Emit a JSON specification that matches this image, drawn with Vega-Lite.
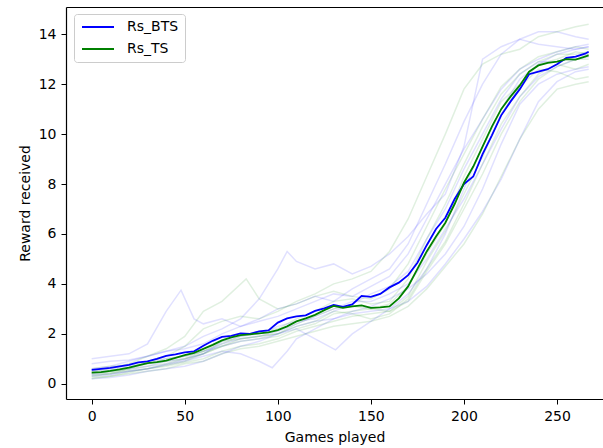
{
"$schema":"https://vega.github.io/schema/vega-lite/v6.json",
"width":537,"height":392,
"autosize":{"type":"none"},
"padding":{"left":66,"top":7,"right":0,"bottom":49},
"config":{"view":{"stroke":null},"font":"DejaVu Sans",
"axis":{"labelFont":"DejaVu Sans","titleFont":"DejaVu Sans","labelFontSize":14,"titleFontSize":14,"titleFontWeight":"normal","labelColor":"#000","titleColor":"#000","domainColor":"#000","tickColor":"#000","grid":false,"tickSize":5,"labelPadding":5,"domainWidth":1.2}},
"datasets":{
"runs":[
{"s":"Rs_BTS","r":"b1","x":0,"y":1.0},{"s":"Rs_BTS","r":"b1","x":10,"y":1.1},{"s":"Rs_BTS","r":"b1","x":20,"y":1.2},{"s":"Rs_BTS","r":"b1","x":30,"y":1.6},{"s":"Rs_BTS","r":"b1","x":40,"y":2.9},{"s":"Rs_BTS","r":"b1","x":48,"y":3.75},{"s":"Rs_BTS","r":"b1","x":55,"y":2.6},{"s":"Rs_BTS","r":"b1","x":60,"y":2.4},{"s":"Rs_BTS","r":"b1","x":70,"y":2.6},{"s":"Rs_BTS","r":"b1","x":80,"y":2.3},{"s":"Rs_BTS","r":"b1","x":90,"y":2.6},{"s":"Rs_BTS","r":"b1","x":100,"y":3.0},{"s":"Rs_BTS","r":"b1","x":110,"y":3.2},{"s":"Rs_BTS","r":"b1","x":120,"y":3.5},{"s":"Rs_BTS","r":"b1","x":130,"y":3.3},{"s":"Rs_BTS","r":"b1","x":140,"y":3.8},{"s":"Rs_BTS","r":"b1","x":150,"y":4.2},{"s":"Rs_BTS","r":"b1","x":160,"y":4.6},{"s":"Rs_BTS","r":"b1","x":170,"y":5.6},{"s":"Rs_BTS","r":"b1","x":180,"y":7.2},{"s":"Rs_BTS","r":"b1","x":190,"y":8.8},{"s":"Rs_BTS","r":"b1","x":200,"y":10.5},{"s":"Rs_BTS","r":"b1","x":210,"y":12.0},{"s":"Rs_BTS","r":"b1","x":220,"y":13.2},{"s":"Rs_BTS","r":"b1","x":230,"y":13.8},{"s":"Rs_BTS","r":"b1","x":240,"y":14.1},{"s":"Rs_BTS","r":"b1","x":250,"y":14.1},{"s":"Rs_BTS","r":"b1","x":260,"y":13.9},{"s":"Rs_BTS","r":"b1","x":267,"y":13.8},
{"s":"Rs_BTS","r":"b2","x":0,"y":0.8},{"s":"Rs_BTS","r":"b2","x":10,"y":0.9},{"s":"Rs_BTS","r":"b2","x":20,"y":0.95},{"s":"Rs_BTS","r":"b2","x":30,"y":1.1},{"s":"Rs_BTS","r":"b2","x":40,"y":1.3},{"s":"Rs_BTS","r":"b2","x":50,"y":1.5},{"s":"Rs_BTS","r":"b2","x":60,"y":1.9},{"s":"Rs_BTS","r":"b2","x":70,"y":2.2},{"s":"Rs_BTS","r":"b2","x":80,"y":2.6},{"s":"Rs_BTS","r":"b2","x":90,"y":3.4},{"s":"Rs_BTS","r":"b2","x":100,"y":4.6},{"s":"Rs_BTS","r":"b2","x":105,"y":5.3},{"s":"Rs_BTS","r":"b2","x":110,"y":4.9},{"s":"Rs_BTS","r":"b2","x":120,"y":4.6},{"s":"Rs_BTS","r":"b2","x":130,"y":4.8},{"s":"Rs_BTS","r":"b2","x":140,"y":4.4},{"s":"Rs_BTS","r":"b2","x":150,"y":4.7},{"s":"Rs_BTS","r":"b2","x":160,"y":5.2},{"s":"Rs_BTS","r":"b2","x":170,"y":5.9},{"s":"Rs_BTS","r":"b2","x":180,"y":6.8},{"s":"Rs_BTS","r":"b2","x":190,"y":7.6},{"s":"Rs_BTS","r":"b2","x":200,"y":9.5},{"s":"Rs_BTS","r":"b2","x":210,"y":13.0},{"s":"Rs_BTS","r":"b2","x":220,"y":13.5},{"s":"Rs_BTS","r":"b2","x":230,"y":13.8},{"s":"Rs_BTS","r":"b2","x":240,"y":13.6},{"s":"Rs_BTS","r":"b2","x":250,"y":13.5},{"s":"Rs_BTS","r":"b2","x":260,"y":13.4},{"s":"Rs_BTS","r":"b2","x":267,"y":13.5},
{"s":"Rs_BTS","r":"b3","x":0,"y":0.3},{"s":"Rs_BTS","r":"b3","x":10,"y":0.35},{"s":"Rs_BTS","r":"b3","x":20,"y":0.5},{"s":"Rs_BTS","r":"b3","x":30,"y":0.6},{"s":"Rs_BTS","r":"b3","x":40,"y":0.75},{"s":"Rs_BTS","r":"b3","x":50,"y":0.9},{"s":"Rs_BTS","r":"b3","x":60,"y":1.1},{"s":"Rs_BTS","r":"b3","x":70,"y":1.3},{"s":"Rs_BTS","r":"b3","x":80,"y":1.2},{"s":"Rs_BTS","r":"b3","x":90,"y":0.9},{"s":"Rs_BTS","r":"b3","x":97,"y":0.64},{"s":"Rs_BTS","r":"b3","x":105,"y":1.3},{"s":"Rs_BTS","r":"b3","x":110,"y":1.8},{"s":"Rs_BTS","r":"b3","x":120,"y":2.2},{"s":"Rs_BTS","r":"b3","x":130,"y":2.6},{"s":"Rs_BTS","r":"b3","x":140,"y":2.9},{"s":"Rs_BTS","r":"b3","x":150,"y":3.1},{"s":"Rs_BTS","r":"b3","x":160,"y":3.4},{"s":"Rs_BTS","r":"b3","x":170,"y":3.8},{"s":"Rs_BTS","r":"b3","x":180,"y":4.4},{"s":"Rs_BTS","r":"b3","x":190,"y":5.2},{"s":"Rs_BTS","r":"b3","x":200,"y":6.3},{"s":"Rs_BTS","r":"b3","x":210,"y":7.8},{"s":"Rs_BTS","r":"b3","x":220,"y":9.6},{"s":"Rs_BTS","r":"b3","x":230,"y":11.2},{"s":"Rs_BTS","r":"b3","x":240,"y":12.0},{"s":"Rs_BTS","r":"b3","x":250,"y":12.4},{"s":"Rs_BTS","r":"b3","x":260,"y":12.6},{"s":"Rs_BTS","r":"b3","x":267,"y":12.7},
{"s":"Rs_BTS","r":"b4","x":0,"y":0.5},{"s":"Rs_BTS","r":"b4","x":10,"y":0.55},{"s":"Rs_BTS","r":"b4","x":20,"y":0.7},{"s":"Rs_BTS","r":"b4","x":30,"y":0.8},{"s":"Rs_BTS","r":"b4","x":40,"y":1.0},{"s":"Rs_BTS","r":"b4","x":50,"y":1.1},{"s":"Rs_BTS","r":"b4","x":60,"y":1.3},{"s":"Rs_BTS","r":"b4","x":70,"y":1.5},{"s":"Rs_BTS","r":"b4","x":80,"y":1.7},{"s":"Rs_BTS","r":"b4","x":90,"y":1.8},{"s":"Rs_BTS","r":"b4","x":100,"y":2.0},{"s":"Rs_BTS","r":"b4","x":110,"y":2.2},{"s":"Rs_BTS","r":"b4","x":120,"y":1.8},{"s":"Rs_BTS","r":"b4","x":131,"y":1.36},{"s":"Rs_BTS","r":"b4","x":140,"y":2.0},{"s":"Rs_BTS","r":"b4","x":150,"y":2.5},{"s":"Rs_BTS","r":"b4","x":160,"y":3.0},{"s":"Rs_BTS","r":"b4","x":170,"y":3.6},{"s":"Rs_BTS","r":"b4","x":180,"y":4.6},{"s":"Rs_BTS","r":"b4","x":190,"y":6.0},{"s":"Rs_BTS","r":"b4","x":200,"y":7.8},{"s":"Rs_BTS","r":"b4","x":210,"y":9.5},{"s":"Rs_BTS","r":"b4","x":220,"y":11.0},{"s":"Rs_BTS","r":"b4","x":230,"y":12.2},{"s":"Rs_BTS","r":"b4","x":240,"y":12.8},{"s":"Rs_BTS","r":"b4","x":250,"y":13.2},{"s":"Rs_BTS","r":"b4","x":260,"y":13.4},{"s":"Rs_BTS","r":"b4","x":267,"y":13.5},
{"s":"Rs_BTS","r":"b5","x":0,"y":0.2},{"s":"Rs_BTS","r":"b5","x":10,"y":0.25},{"s":"Rs_BTS","r":"b5","x":20,"y":0.35},{"s":"Rs_BTS","r":"b5","x":30,"y":0.5},{"s":"Rs_BTS","r":"b5","x":40,"y":0.6},{"s":"Rs_BTS","r":"b5","x":50,"y":0.7},{"s":"Rs_BTS","r":"b5","x":60,"y":0.9},{"s":"Rs_BTS","r":"b5","x":70,"y":1.2},{"s":"Rs_BTS","r":"b5","x":80,"y":1.5},{"s":"Rs_BTS","r":"b5","x":90,"y":1.7},{"s":"Rs_BTS","r":"b5","x":100,"y":2.0},{"s":"Rs_BTS","r":"b5","x":110,"y":2.3},{"s":"Rs_BTS","r":"b5","x":120,"y":2.5},{"s":"Rs_BTS","r":"b5","x":130,"y":2.6},{"s":"Rs_BTS","r":"b5","x":140,"y":2.8},{"s":"Rs_BTS","r":"b5","x":150,"y":2.9},{"s":"Rs_BTS","r":"b5","x":160,"y":3.0},{"s":"Rs_BTS","r":"b5","x":170,"y":3.3},{"s":"Rs_BTS","r":"b5","x":180,"y":3.9},{"s":"Rs_BTS","r":"b5","x":190,"y":4.8},{"s":"Rs_BTS","r":"b5","x":200,"y":5.8},{"s":"Rs_BTS","r":"b5","x":210,"y":6.9},{"s":"Rs_BTS","r":"b5","x":220,"y":8.2},{"s":"Rs_BTS","r":"b5","x":230,"y":9.8},{"s":"Rs_BTS","r":"b5","x":240,"y":11.3},{"s":"Rs_BTS","r":"b5","x":250,"y":12.1},{"s":"Rs_BTS","r":"b5","x":260,"y":12.5},{"s":"Rs_BTS","r":"b5","x":267,"y":12.6},
{"s":"Rs_BTS","r":"b6","x":0,"y":0.6},{"s":"Rs_BTS","r":"b6","x":10,"y":0.7},{"s":"Rs_BTS","r":"b6","x":20,"y":0.9},{"s":"Rs_BTS","r":"b6","x":30,"y":1.1},{"s":"Rs_BTS","r":"b6","x":40,"y":1.3},{"s":"Rs_BTS","r":"b6","x":50,"y":1.4},{"s":"Rs_BTS","r":"b6","x":60,"y":1.6},{"s":"Rs_BTS","r":"b6","x":70,"y":2.0},{"s":"Rs_BTS","r":"b6","x":80,"y":2.3},{"s":"Rs_BTS","r":"b6","x":90,"y":2.5},{"s":"Rs_BTS","r":"b6","x":100,"y":2.7},{"s":"Rs_BTS","r":"b6","x":110,"y":3.0},{"s":"Rs_BTS","r":"b6","x":120,"y":3.3},{"s":"Rs_BTS","r":"b6","x":130,"y":3.6},{"s":"Rs_BTS","r":"b6","x":140,"y":3.5},{"s":"Rs_BTS","r":"b6","x":150,"y":3.9},{"s":"Rs_BTS","r":"b6","x":160,"y":4.3},{"s":"Rs_BTS","r":"b6","x":170,"y":5.2},{"s":"Rs_BTS","r":"b6","x":180,"y":6.6},{"s":"Rs_BTS","r":"b6","x":190,"y":8.0},{"s":"Rs_BTS","r":"b6","x":200,"y":9.4},{"s":"Rs_BTS","r":"b6","x":210,"y":10.6},{"s":"Rs_BTS","r":"b6","x":220,"y":11.8},{"s":"Rs_BTS","r":"b6","x":230,"y":12.6},{"s":"Rs_BTS","r":"b6","x":240,"y":13.0},{"s":"Rs_BTS","r":"b6","x":250,"y":13.3},{"s":"Rs_BTS","r":"b6","x":260,"y":13.5},{"s":"Rs_BTS","r":"b6","x":267,"y":13.6},
{"s":"Rs_BTS","r":"b7","x":0,"y":0.4},{"s":"Rs_BTS","r":"b7","x":10,"y":0.5},{"s":"Rs_BTS","r":"b7","x":20,"y":0.6},{"s":"Rs_BTS","r":"b7","x":30,"y":0.7},{"s":"Rs_BTS","r":"b7","x":40,"y":0.9},{"s":"Rs_BTS","r":"b7","x":50,"y":1.0},{"s":"Rs_BTS","r":"b7","x":60,"y":1.2},{"s":"Rs_BTS","r":"b7","x":70,"y":1.6},{"s":"Rs_BTS","r":"b7","x":80,"y":1.8},{"s":"Rs_BTS","r":"b7","x":90,"y":1.9},{"s":"Rs_BTS","r":"b7","x":100,"y":2.1},{"s":"Rs_BTS","r":"b7","x":110,"y":2.4},{"s":"Rs_BTS","r":"b7","x":120,"y":2.7},{"s":"Rs_BTS","r":"b7","x":130,"y":3.0},{"s":"Rs_BTS","r":"b7","x":140,"y":3.3},{"s":"Rs_BTS","r":"b7","x":150,"y":3.3},{"s":"Rs_BTS","r":"b7","x":160,"y":3.6},{"s":"Rs_BTS","r":"b7","x":170,"y":4.0},{"s":"Rs_BTS","r":"b7","x":180,"y":5.0},{"s":"Rs_BTS","r":"b7","x":190,"y":6.2},{"s":"Rs_BTS","r":"b7","x":200,"y":7.4},{"s":"Rs_BTS","r":"b7","x":210,"y":8.8},{"s":"Rs_BTS","r":"b7","x":220,"y":10.2},{"s":"Rs_BTS","r":"b7","x":230,"y":11.5},{"s":"Rs_BTS","r":"b7","x":240,"y":12.3},{"s":"Rs_BTS","r":"b7","x":250,"y":12.7},{"s":"Rs_BTS","r":"b7","x":260,"y":13.0},{"s":"Rs_BTS","r":"b7","x":267,"y":13.1},
{"s":"Rs_BTS","r":"b8","x":0,"y":0.35},{"s":"Rs_BTS","r":"b8","x":10,"y":0.4},{"s":"Rs_BTS","r":"b8","x":20,"y":0.5},{"s":"Rs_BTS","r":"b8","x":30,"y":0.6},{"s":"Rs_BTS","r":"b8","x":40,"y":0.8},{"s":"Rs_BTS","r":"b8","x":50,"y":0.95},{"s":"Rs_BTS","r":"b8","x":60,"y":1.2},{"s":"Rs_BTS","r":"b8","x":70,"y":1.7},{"s":"Rs_BTS","r":"b8","x":80,"y":1.9},{"s":"Rs_BTS","r":"b8","x":90,"y":2.0},{"s":"Rs_BTS","r":"b8","x":100,"y":2.3},{"s":"Rs_BTS","r":"b8","x":110,"y":2.5},{"s":"Rs_BTS","r":"b8","x":120,"y":2.6},{"s":"Rs_BTS","r":"b8","x":130,"y":2.9},{"s":"Rs_BTS","r":"b8","x":140,"y":3.2},{"s":"Rs_BTS","r":"b8","x":150,"y":3.6},{"s":"Rs_BTS","r":"b8","x":160,"y":3.9},{"s":"Rs_BTS","r":"b8","x":170,"y":4.5},{"s":"Rs_BTS","r":"b8","x":180,"y":5.8},{"s":"Rs_BTS","r":"b8","x":190,"y":7.0},{"s":"Rs_BTS","r":"b8","x":200,"y":8.6},{"s":"Rs_BTS","r":"b8","x":210,"y":10.0},{"s":"Rs_BTS","r":"b8","x":220,"y":11.4},{"s":"Rs_BTS","r":"b8","x":230,"y":12.4},{"s":"Rs_BTS","r":"b8","x":240,"y":12.9},{"s":"Rs_BTS","r":"b8","x":250,"y":12.9},{"s":"Rs_BTS","r":"b8","x":260,"y":13.1},{"s":"Rs_BTS","r":"b8","x":267,"y":13.2},
{"s":"Rs_TS","r":"g1","x":0,"y":0.3},{"s":"Rs_TS","r":"g1","x":10,"y":0.4},{"s":"Rs_TS","r":"g1","x":20,"y":0.6},{"s":"Rs_TS","r":"g1","x":30,"y":0.9},{"s":"Rs_TS","r":"g1","x":40,"y":1.1},{"s":"Rs_TS","r":"g1","x":50,"y":1.5},{"s":"Rs_TS","r":"g1","x":60,"y":2.2},{"s":"Rs_TS","r":"g1","x":70,"y":2.5},{"s":"Rs_TS","r":"g1","x":80,"y":2.7},{"s":"Rs_TS","r":"g1","x":90,"y":2.6},{"s":"Rs_TS","r":"g1","x":100,"y":2.9},{"s":"Rs_TS","r":"g1","x":110,"y":3.3},{"s":"Rs_TS","r":"g1","x":120,"y":3.6},{"s":"Rs_TS","r":"g1","x":130,"y":4.0},{"s":"Rs_TS","r":"g1","x":140,"y":4.2},{"s":"Rs_TS","r":"g1","x":150,"y":4.5},{"s":"Rs_TS","r":"g1","x":160,"y":5.3},{"s":"Rs_TS","r":"g1","x":170,"y":6.6},{"s":"Rs_TS","r":"g1","x":180,"y":8.3},{"s":"Rs_TS","r":"g1","x":190,"y":10.0},{"s":"Rs_TS","r":"g1","x":200,"y":11.8},{"s":"Rs_TS","r":"g1","x":210,"y":12.8},{"s":"Rs_TS","r":"g1","x":220,"y":13.2},{"s":"Rs_TS","r":"g1","x":230,"y":13.4},{"s":"Rs_TS","r":"g1","x":240,"y":13.9},{"s":"Rs_TS","r":"g1","x":250,"y":14.1},{"s":"Rs_TS","r":"g1","x":260,"y":14.3},{"s":"Rs_TS","r":"g1","x":267,"y":14.4},
{"s":"Rs_TS","r":"g2","x":0,"y":0.5},{"s":"Rs_TS","r":"g2","x":10,"y":0.6},{"s":"Rs_TS","r":"g2","x":20,"y":0.8},{"s":"Rs_TS","r":"g2","x":30,"y":1.1},{"s":"Rs_TS","r":"g2","x":40,"y":1.4},{"s":"Rs_TS","r":"g2","x":50,"y":1.9},{"s":"Rs_TS","r":"g2","x":60,"y":2.9},{"s":"Rs_TS","r":"g2","x":70,"y":3.3},{"s":"Rs_TS","r":"g2","x":83,"y":4.2},{"s":"Rs_TS","r":"g2","x":90,"y":3.4},{"s":"Rs_TS","r":"g2","x":100,"y":3.0},{"s":"Rs_TS","r":"g2","x":110,"y":3.2},{"s":"Rs_TS","r":"g2","x":120,"y":3.5},{"s":"Rs_TS","r":"g2","x":130,"y":3.7},{"s":"Rs_TS","r":"g2","x":140,"y":3.5},{"s":"Rs_TS","r":"g2","x":150,"y":3.4},{"s":"Rs_TS","r":"g2","x":160,"y":3.8},{"s":"Rs_TS","r":"g2","x":170,"y":4.8},{"s":"Rs_TS","r":"g2","x":180,"y":6.3},{"s":"Rs_TS","r":"g2","x":190,"y":7.8},{"s":"Rs_TS","r":"g2","x":200,"y":9.2},{"s":"Rs_TS","r":"g2","x":210,"y":10.6},{"s":"Rs_TS","r":"g2","x":220,"y":11.9},{"s":"Rs_TS","r":"g2","x":230,"y":12.6},{"s":"Rs_TS","r":"g2","x":240,"y":13.1},{"s":"Rs_TS","r":"g2","x":250,"y":13.3},{"s":"Rs_TS","r":"g2","x":260,"y":13.5},{"s":"Rs_TS","r":"g2","x":267,"y":13.4},
{"s":"Rs_TS","r":"g3","x":0,"y":0.2},{"s":"Rs_TS","r":"g3","x":10,"y":0.3},{"s":"Rs_TS","r":"g3","x":20,"y":0.4},{"s":"Rs_TS","r":"g3","x":30,"y":0.5},{"s":"Rs_TS","r":"g3","x":40,"y":0.6},{"s":"Rs_TS","r":"g3","x":50,"y":0.8},{"s":"Rs_TS","r":"g3","x":60,"y":0.9},{"s":"Rs_TS","r":"g3","x":70,"y":1.2},{"s":"Rs_TS","r":"g3","x":80,"y":1.4},{"s":"Rs_TS","r":"g3","x":90,"y":1.5},{"s":"Rs_TS","r":"g3","x":100,"y":1.7},{"s":"Rs_TS","r":"g3","x":110,"y":1.9},{"s":"Rs_TS","r":"g3","x":120,"y":2.1},{"s":"Rs_TS","r":"g3","x":130,"y":2.3},{"s":"Rs_TS","r":"g3","x":140,"y":2.4},{"s":"Rs_TS","r":"g3","x":150,"y":2.5},{"s":"Rs_TS","r":"g3","x":160,"y":2.7},{"s":"Rs_TS","r":"g3","x":170,"y":3.1},{"s":"Rs_TS","r":"g3","x":180,"y":3.8},{"s":"Rs_TS","r":"g3","x":190,"y":4.7},{"s":"Rs_TS","r":"g3","x":200,"y":5.6},{"s":"Rs_TS","r":"g3","x":210,"y":6.8},{"s":"Rs_TS","r":"g3","x":220,"y":8.3},{"s":"Rs_TS","r":"g3","x":230,"y":9.8},{"s":"Rs_TS","r":"g3","x":240,"y":11.0},{"s":"Rs_TS","r":"g3","x":250,"y":11.8},{"s":"Rs_TS","r":"g3","x":260,"y":12.0},{"s":"Rs_TS","r":"g3","x":267,"y":12.1},
{"s":"Rs_TS","r":"g4","x":0,"y":0.4},{"s":"Rs_TS","r":"g4","x":10,"y":0.45},{"s":"Rs_TS","r":"g4","x":20,"y":0.55},{"s":"Rs_TS","r":"g4","x":30,"y":0.7},{"s":"Rs_TS","r":"g4","x":40,"y":0.8},{"s":"Rs_TS","r":"g4","x":50,"y":1.0},{"s":"Rs_TS","r":"g4","x":60,"y":1.2},{"s":"Rs_TS","r":"g4","x":70,"y":1.5},{"s":"Rs_TS","r":"g4","x":80,"y":1.8},{"s":"Rs_TS","r":"g4","x":90,"y":1.9},{"s":"Rs_TS","r":"g4","x":100,"y":2.0},{"s":"Rs_TS","r":"g4","x":110,"y":2.3},{"s":"Rs_TS","r":"g4","x":120,"y":2.5},{"s":"Rs_TS","r":"g4","x":130,"y":2.9},{"s":"Rs_TS","r":"g4","x":140,"y":2.8},{"s":"Rs_TS","r":"g4","x":150,"y":2.6},{"s":"Rs_TS","r":"g4","x":160,"y":2.8},{"s":"Rs_TS","r":"g4","x":170,"y":3.4},{"s":"Rs_TS","r":"g4","x":180,"y":4.6},{"s":"Rs_TS","r":"g4","x":190,"y":5.7},{"s":"Rs_TS","r":"g4","x":200,"y":7.2},{"s":"Rs_TS","r":"g4","x":210,"y":8.8},{"s":"Rs_TS","r":"g4","x":220,"y":10.4},{"s":"Rs_TS","r":"g4","x":230,"y":11.5},{"s":"Rs_TS","r":"g4","x":240,"y":12.4},{"s":"Rs_TS","r":"g4","x":250,"y":12.8},{"s":"Rs_TS","r":"g4","x":260,"y":12.6},{"s":"Rs_TS","r":"g4","x":267,"y":12.8},
{"s":"Rs_TS","r":"g5","x":0,"y":0.6},{"s":"Rs_TS","r":"g5","x":10,"y":0.7},{"s":"Rs_TS","r":"g5","x":20,"y":0.75},{"s":"Rs_TS","r":"g5","x":30,"y":0.9},{"s":"Rs_TS","r":"g5","x":40,"y":1.0},{"s":"Rs_TS","r":"g5","x":50,"y":1.1},{"s":"Rs_TS","r":"g5","x":60,"y":1.3},{"s":"Rs_TS","r":"g5","x":70,"y":1.6},{"s":"Rs_TS","r":"g5","x":80,"y":1.9},{"s":"Rs_TS","r":"g5","x":90,"y":2.1},{"s":"Rs_TS","r":"g5","x":100,"y":2.2},{"s":"Rs_TS","r":"g5","x":110,"y":2.6},{"s":"Rs_TS","r":"g5","x":120,"y":2.9},{"s":"Rs_TS","r":"g5","x":130,"y":3.3},{"s":"Rs_TS","r":"g5","x":140,"y":3.4},{"s":"Rs_TS","r":"g5","x":150,"y":3.2},{"s":"Rs_TS","r":"g5","x":160,"y":3.3},{"s":"Rs_TS","r":"g5","x":170,"y":4.2},{"s":"Rs_TS","r":"g5","x":180,"y":5.8},{"s":"Rs_TS","r":"g5","x":190,"y":7.2},{"s":"Rs_TS","r":"g5","x":200,"y":8.8},{"s":"Rs_TS","r":"g5","x":210,"y":10.3},{"s":"Rs_TS","r":"g5","x":220,"y":11.6},{"s":"Rs_TS","r":"g5","x":230,"y":12.4},{"s":"Rs_TS","r":"g5","x":240,"y":12.9},{"s":"Rs_TS","r":"g5","x":250,"y":13.2},{"s":"Rs_TS","r":"g5","x":260,"y":13.2},{"s":"Rs_TS","r":"g5","x":267,"y":13.3},
{"s":"Rs_TS","r":"g6","x":0,"y":0.35},{"s":"Rs_TS","r":"g6","x":10,"y":0.4},{"s":"Rs_TS","r":"g6","x":20,"y":0.5},{"s":"Rs_TS","r":"g6","x":30,"y":0.6},{"s":"Rs_TS","r":"g6","x":40,"y":0.7},{"s":"Rs_TS","r":"g6","x":50,"y":0.85},{"s":"Rs_TS","r":"g6","x":60,"y":1.0},{"s":"Rs_TS","r":"g6","x":70,"y":1.3},{"s":"Rs_TS","r":"g6","x":80,"y":1.5},{"s":"Rs_TS","r":"g6","x":90,"y":1.6},{"s":"Rs_TS","r":"g6","x":100,"y":1.8},{"s":"Rs_TS","r":"g6","x":110,"y":2.1},{"s":"Rs_TS","r":"g6","x":120,"y":2.3},{"s":"Rs_TS","r":"g6","x":130,"y":2.5},{"s":"Rs_TS","r":"g6","x":140,"y":2.7},{"s":"Rs_TS","r":"g6","x":150,"y":2.8},{"s":"Rs_TS","r":"g6","x":160,"y":2.9},{"s":"Rs_TS","r":"g6","x":170,"y":3.5},{"s":"Rs_TS","r":"g6","x":180,"y":4.9},{"s":"Rs_TS","r":"g6","x":190,"y":6.1},{"s":"Rs_TS","r":"g6","x":200,"y":7.6},{"s":"Rs_TS","r":"g6","x":210,"y":9.1},{"s":"Rs_TS","r":"g6","x":220,"y":10.8},{"s":"Rs_TS","r":"g6","x":230,"y":11.9},{"s":"Rs_TS","r":"g6","x":240,"y":12.6},{"s":"Rs_TS","r":"g6","x":250,"y":12.5},{"s":"Rs_TS","r":"g6","x":260,"y":12.2},{"s":"Rs_TS","r":"g6","x":267,"y":12.3},
{"s":"Rs_TS","r":"g7","x":0,"y":0.45},{"s":"Rs_TS","r":"g7","x":10,"y":0.5},{"s":"Rs_TS","r":"g7","x":20,"y":0.6},{"s":"Rs_TS","r":"g7","x":30,"y":0.8},{"s":"Rs_TS","r":"g7","x":40,"y":0.9},{"s":"Rs_TS","r":"g7","x":50,"y":1.0},{"s":"Rs_TS","r":"g7","x":60,"y":1.3},{"s":"Rs_TS","r":"g7","x":70,"y":1.7},{"s":"Rs_TS","r":"g7","x":80,"y":1.8},{"s":"Rs_TS","r":"g7","x":90,"y":1.9},{"s":"Rs_TS","r":"g7","x":100,"y":2.0},{"s":"Rs_TS","r":"g7","x":110,"y":2.4},{"s":"Rs_TS","r":"g7","x":120,"y":2.7},{"s":"Rs_TS","r":"g7","x":130,"y":3.0},{"s":"Rs_TS","r":"g7","x":140,"y":3.1},{"s":"Rs_TS","r":"g7","x":150,"y":3.0},{"s":"Rs_TS","r":"g7","x":160,"y":3.2},{"s":"Rs_TS","r":"g7","x":170,"y":3.9},{"s":"Rs_TS","r":"g7","x":180,"y":5.2},{"s":"Rs_TS","r":"g7","x":190,"y":6.4},{"s":"Rs_TS","r":"g7","x":200,"y":8.3},{"s":"Rs_TS","r":"g7","x":210,"y":9.8},{"s":"Rs_TS","r":"g7","x":220,"y":11.3},{"s":"Rs_TS","r":"g7","x":230,"y":12.0},{"s":"Rs_TS","r":"g7","x":240,"y":12.8},{"s":"Rs_TS","r":"g7","x":250,"y":13.0},{"s":"Rs_TS","r":"g7","x":260,"y":13.3},{"s":"Rs_TS","r":"g7","x":267,"y":13.2},
{"s":"Rs_TS","r":"g8","x":0,"y":0.25},{"s":"Rs_TS","r":"g8","x":10,"y":0.3},{"s":"Rs_TS","r":"g8","x":20,"y":0.45},{"s":"Rs_TS","r":"g8","x":30,"y":0.6},{"s":"Rs_TS","r":"g8","x":40,"y":0.75},{"s":"Rs_TS","r":"g8","x":50,"y":0.9},{"s":"Rs_TS","r":"g8","x":60,"y":1.2},{"s":"Rs_TS","r":"g8","x":70,"y":1.5},{"s":"Rs_TS","r":"g8","x":80,"y":1.7},{"s":"Rs_TS","r":"g8","x":90,"y":1.8},{"s":"Rs_TS","r":"g8","x":100,"y":1.9},{"s":"Rs_TS","r":"g8","x":110,"y":2.2},{"s":"Rs_TS","r":"g8","x":120,"y":2.4},{"s":"Rs_TS","r":"g8","x":130,"y":2.8},{"s":"Rs_TS","r":"g8","x":140,"y":2.9},{"s":"Rs_TS","r":"g8","x":150,"y":3.0},{"s":"Rs_TS","r":"g8","x":160,"y":2.9},{"s":"Rs_TS","r":"g8","x":170,"y":3.3},{"s":"Rs_TS","r":"g8","x":180,"y":4.5},{"s":"Rs_TS","r":"g8","x":190,"y":5.6},{"s":"Rs_TS","r":"g8","x":200,"y":7.0},{"s":"Rs_TS","r":"g8","x":210,"y":8.4},{"s":"Rs_TS","r":"g8","x":220,"y":10.0},{"s":"Rs_TS","r":"g8","x":230,"y":11.3},{"s":"Rs_TS","r":"g8","x":240,"y":12.2},{"s":"Rs_TS","r":"g8","x":250,"y":12.7},{"s":"Rs_TS","r":"g8","x":260,"y":13.0},{"s":"Rs_TS","r":"g8","x":267,"y":13.0}
],
"mean":[
{"s":"Rs_BTS","x":0,"y":0.56},{"s":"Rs_BTS","x":5,"y":0.6},{"s":"Rs_BTS","x":10,"y":0.64},{"s":"Rs_BTS","x":15,"y":0.7},{"s":"Rs_BTS","x":20,"y":0.76},{"s":"Rs_BTS","x":25,"y":0.86},{"s":"Rs_BTS","x":30,"y":0.9},{"s":"Rs_BTS","x":35,"y":1.0},{"s":"Rs_BTS","x":40,"y":1.12},{"s":"Rs_BTS","x":45,"y":1.18},{"s":"Rs_BTS","x":50,"y":1.26},{"s":"Rs_BTS","x":55,"y":1.3},{"s":"Rs_BTS","x":60,"y":1.52},{"s":"Rs_BTS","x":65,"y":1.72},{"s":"Rs_BTS","x":70,"y":1.88},{"s":"Rs_BTS","x":75,"y":1.92},{"s":"Rs_BTS","x":80,"y":2.02},{"s":"Rs_BTS","x":85,"y":2.0},{"s":"Rs_BTS","x":90,"y":2.1},{"s":"Rs_BTS","x":95,"y":2.14},{"s":"Rs_BTS","x":100,"y":2.45},{"s":"Rs_BTS","x":105,"y":2.62},{"s":"Rs_BTS","x":110,"y":2.7},{"s":"Rs_BTS","x":115,"y":2.74},{"s":"Rs_BTS","x":120,"y":2.92},{"s":"Rs_BTS","x":125,"y":3.02},{"s":"Rs_BTS","x":130,"y":3.16},{"s":"Rs_BTS","x":135,"y":3.08},{"s":"Rs_BTS","x":140,"y":3.18},{"s":"Rs_BTS","x":145,"y":3.52},{"s":"Rs_BTS","x":150,"y":3.48},{"s":"Rs_BTS","x":155,"y":3.6},{"s":"Rs_BTS","x":160,"y":3.86},{"s":"Rs_BTS","x":165,"y":4.05},{"s":"Rs_BTS","x":170,"y":4.35},{"s":"Rs_BTS","x":175,"y":4.85},{"s":"Rs_BTS","x":180,"y":5.55},{"s":"Rs_BTS","x":185,"y":6.2},{"s":"Rs_BTS","x":190,"y":6.65},{"s":"Rs_BTS","x":195,"y":7.4},{"s":"Rs_BTS","x":200,"y":8.0},{"s":"Rs_BTS","x":205,"y":8.3},{"s":"Rs_BTS","x":210,"y":9.2},{"s":"Rs_BTS","x":215,"y":9.95},{"s":"Rs_BTS","x":220,"y":10.75},{"s":"Rs_BTS","x":225,"y":11.3},{"s":"Rs_BTS","x":230,"y":11.8},{"s":"Rs_BTS","x":235,"y":12.4},{"s":"Rs_BTS","x":240,"y":12.5},{"s":"Rs_BTS","x":245,"y":12.6},{"s":"Rs_BTS","x":250,"y":12.8},{"s":"Rs_BTS","x":255,"y":13.05},{"s":"Rs_BTS","x":260,"y":13.1},{"s":"Rs_BTS","x":265,"y":13.22},{"s":"Rs_BTS","x":267,"y":13.3},
{"s":"Rs_TS","x":0,"y":0.45},{"s":"Rs_TS","x":5,"y":0.47},{"s":"Rs_TS","x":10,"y":0.52},{"s":"Rs_TS","x":15,"y":0.58},{"s":"Rs_TS","x":20,"y":0.65},{"s":"Rs_TS","x":25,"y":0.74},{"s":"Rs_TS","x":30,"y":0.83},{"s":"Rs_TS","x":35,"y":0.87},{"s":"Rs_TS","x":40,"y":0.93},{"s":"Rs_TS","x":45,"y":1.04},{"s":"Rs_TS","x":50,"y":1.15},{"s":"Rs_TS","x":55,"y":1.24},{"s":"Rs_TS","x":60,"y":1.4},{"s":"Rs_TS","x":65,"y":1.56},{"s":"Rs_TS","x":70,"y":1.74},{"s":"Rs_TS","x":75,"y":1.86},{"s":"Rs_TS","x":80,"y":1.95},{"s":"Rs_TS","x":85,"y":1.98},{"s":"Rs_TS","x":90,"y":2.02},{"s":"Rs_TS","x":95,"y":2.06},{"s":"Rs_TS","x":100,"y":2.15},{"s":"Rs_TS","x":105,"y":2.3},{"s":"Rs_TS","x":110,"y":2.5},{"s":"Rs_TS","x":115,"y":2.62},{"s":"Rs_TS","x":120,"y":2.76},{"s":"Rs_TS","x":125,"y":2.95},{"s":"Rs_TS","x":130,"y":3.12},{"s":"Rs_TS","x":135,"y":3.04},{"s":"Rs_TS","x":140,"y":3.1},{"s":"Rs_TS","x":145,"y":3.14},{"s":"Rs_TS","x":150,"y":3.04},{"s":"Rs_TS","x":155,"y":3.06},{"s":"Rs_TS","x":160,"y":3.1},{"s":"Rs_TS","x":165,"y":3.42},{"s":"Rs_TS","x":170,"y":3.9},{"s":"Rs_TS","x":175,"y":4.6},{"s":"Rs_TS","x":180,"y":5.3},{"s":"Rs_TS","x":185,"y":5.9},{"s":"Rs_TS","x":190,"y":6.45},{"s":"Rs_TS","x":195,"y":7.2},{"s":"Rs_TS","x":200,"y":8.05},{"s":"Rs_TS","x":205,"y":8.7},{"s":"Rs_TS","x":210,"y":9.5},{"s":"Rs_TS","x":215,"y":10.3},{"s":"Rs_TS","x":220,"y":11.0},{"s":"Rs_TS","x":225,"y":11.5},{"s":"Rs_TS","x":230,"y":11.95},{"s":"Rs_TS","x":235,"y":12.5},{"s":"Rs_TS","x":240,"y":12.75},{"s":"Rs_TS","x":245,"y":12.85},{"s":"Rs_TS","x":250,"y":12.9},{"s":"Rs_TS","x":255,"y":13.0},{"s":"Rs_TS","x":260,"y":12.98},{"s":"Rs_TS","x":265,"y":13.1},{"s":"Rs_TS","x":267,"y":13.15}
]},
"layer":[
{"data":{"name":"runs"},"mark":{"type":"line","strokeWidth":1.5,"opacity":0.12},
"encoding":{
"x":{"field":"x","type":"quantitative","scale":{"domain":[-13.8,274.7],"nice":false,"zero":false},"axis":{"values":[0,50,100,150,200,250],"title":"Games played","titlePadding":7}},
"y":{"field":"y","type":"quantitative","scale":{"domain":[-0.61,15.09],"nice":false,"zero":false},"axis":{"values":[0,2,4,6,8,10,12,14],"title":"Reward received","titlePadding":6}},
"color":{"field":"s","type":"nominal","scale":{"domain":["Rs_BTS","Rs_TS"],"range":["#0000ff","#008000"]}},
"detail":{"field":"r"}}},
{"data":{"name":"mean"},"mark":{"type":"line","strokeWidth":1.8},
"encoding":{
"x":{"field":"x","type":"quantitative","axis":{"orient":"top","labels":false,"ticks":false,"title":null,"domain":true}},
"y":{"field":"y","type":"quantitative"},
"color":{"field":"s","type":"nominal","legend":{"title":null,"orient":"none","legendX":8,"legendY":7,"symbolType":"M-1,0H5.4","symbolSize":100,"symbolStrokeWidth":2,"labelFont":"DejaVu Sans","labelFontSize":14,"labelColor":"#000","labelOffset":33,"rowPadding":8,"padding":6,"strokeColor":"#cccccc","fillColor":"rgba(255,255,255,0.8)","cornerRadius":3,
"encode":{"symbols":{"update":{"opacity":{"value":1},"strokeOpacity":{"value":1},"strokeWidth":{"value":2}}}}}}}}
],
"resolve":{"axis":{"x":"independent"}}
}
